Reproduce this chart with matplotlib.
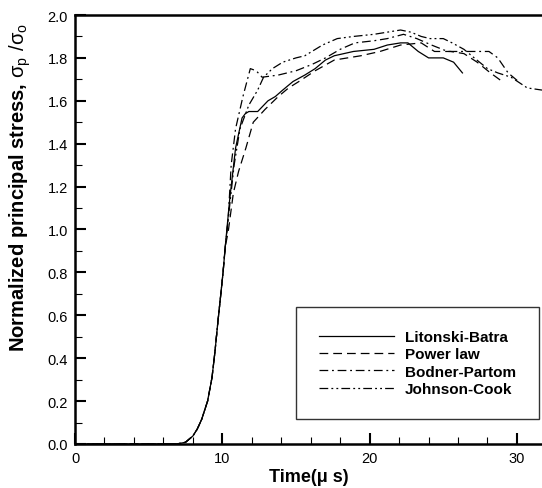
import numpy as np
import matplotlib
matplotlib.use("Agg")
from matplotlib import pyplot as plt
from matplotlib.ticker import MultipleLocator, FormatStrFormatter

plt.rcParams['font.family'] = ['Liberation Sans', 'DejaVu Sans']
plt.rcParams['mathtext.fontset'] = 'custom'
plt.rcParams['mathtext.rm'] = 'Liberation Sans'

# Shared rise
rise_t = [0.0, 6.9, 7.5, 8.0, 8.3, 8.6, 9.0, 9.3, 9.5, 9.7, 9.9, 10.05, 10.2]
rise_s = [0.0, 0.0, 0.008, 0.037, 0.07, 0.115, 0.20, 0.31, 0.43, 0.57, 0.70, 0.80, 0.92]

# Litonski-Batra (solid)
lb_t = rise_t + [10.5, 10.9, 11.34, 11.56, 11.8, 12.4, 13.1, 13.6, 14.1, 14.8,
                 15.6, 16.3, 17.0, 17.6, 18.9, 20.3, 21.2, 22.1, 22.6, 23.3,
                 24.0, 25.0, 25.7, 26.3]
lb_s = rise_s + [1.14, 1.38, 1.52, 1.54, 1.55, 1.55, 1.60, 1.62, 1.65, 1.69,
                 1.72, 1.75, 1.79, 1.81, 1.83, 1.84, 1.86, 1.87, 1.87, 1.83,
                 1.80, 1.80, 1.78, 1.73]

# Power law (dashed)
pl_t = rise_t + [10.4, 10.75, 11.1, 11.6, 12.1, 12.9, 13.8, 14.5, 15.2, 16.3,
                 17.6, 19.4, 20.7, 22.1, 23.5, 24.4, 25.5, 26.4, 27.3, 28.2,
                 29.0]
pl_s = rise_s + [0.99, 1.17, 1.27, 1.38, 1.50, 1.56, 1.62, 1.66, 1.69, 1.74,
                 1.79, 1.81, 1.83, 1.86, 1.87, 1.83, 1.83, 1.82, 1.78, 1.73,
                 1.69]

# Bodner-Partom (dash-dot)
bp_t = rise_t + [10.4, 10.6, 10.9, 11.4, 11.9, 12.3, 12.7, 13.8, 15.0, 16.1,
                 17.0, 18.0, 19.0, 20.3, 21.2, 22.3, 23.2, 24.2, 25.3, 26.5,
                 28.1, 28.7, 29.4, 30.1]
bp_s = rise_s + [1.05, 1.30, 1.47, 1.62, 1.75, 1.74, 1.71, 1.72, 1.74, 1.77,
                 1.80, 1.84, 1.87, 1.88, 1.89, 1.91, 1.89, 1.86, 1.83, 1.83,
                 1.83, 1.80, 1.73, 1.69]

# Johnson-Cook (dash-dot-dot)
jc_t = rise_t + [10.45, 10.8, 11.2, 11.8, 12.4, 12.8, 13.4, 14.1, 15.0, 15.6,
                 16.8, 17.8, 18.9, 20.3, 21.2, 22.1, 22.8, 23.5, 24.1, 25.0,
                 25.6, 26.4, 27.1, 28.0, 28.7, 29.6, 30.7, 31.7]
jc_s = rise_s + [1.08, 1.30, 1.47, 1.58, 1.65, 1.71, 1.75, 1.78, 1.80, 1.81,
                 1.86, 1.89, 1.90, 1.91, 1.92, 1.93, 1.92, 1.90, 1.89, 1.89,
                 1.87, 1.84, 1.80, 1.75, 1.73, 1.71, 1.66, 1.65]

labels = ["Litonski-Batra", "Power law", "Bodner-Partom", "Johnson-Cook"]

fig = plt.figure(figsize=(5.42, 4.89), dpi=100)
ax = fig.add_axes([75 / 542, 1 - 445 / 489, 1 - 75 / 542, (445 - 16) / 489])

lw = 0.9
ax.plot(lb_t, lb_s, color='k', lw=lw, linestyle='-', label=labels[0])
ax.plot(pl_t, pl_s, color='k', lw=lw, linestyle=(0, (7, 4)), label=labels[1])
ax.plot(bp_t, bp_s, color='k', lw=lw, linestyle=(0, (7, 3, 1.5, 3)), label=labels[2])
ax.plot(jc_t, jc_s, color='k', lw=lw, linestyle=(0, (7, 2.5, 1.5, 2.5, 1.5, 2.5)), label=labels[3])

ax.set_xlim(0, 31.7)
ax.set_ylim(0, 2.0)
ax.xaxis.set_major_locator(MultipleLocator(10))
ax.xaxis.set_minor_locator(MultipleLocator(2))
ax.yaxis.set_major_locator(MultipleLocator(0.2))
ax.yaxis.set_minor_locator(MultipleLocator(0.1))
ax.yaxis.set_major_formatter(FormatStrFormatter('%.1f'))

ax.tick_params(which='major', direction='in', length=8, width=1.5, labelsize=10.5, pad=5)
ax.tick_params(which='minor', direction='in', length=5, width=0.8)
ax.tick_params(top=False, right=False)
for side in ['left', 'bottom', 'top']:
    ax.spines[side].set_linewidth(1.8)
ax.spines['right'].set_visible(False)

ax.set_xlabel("Time(\u03bc s)", fontsize=13, fontweight='bold', labelpad=2)
ax.set_ylabel(r"Normalized principal stress, $\mathrm{\sigma_{p}\ /\sigma_{o}}$",
              fontsize=14.5, fontweight='bold')
ax.yaxis.set_label_coords(-0.09, 0.6)

leg = ax.legend(loc='lower right', bbox_to_anchor=(0.9936, 0.058), borderaxespad=0,
                prop={'weight': 'bold', 'size': 11}, handlelength=4.9,
                handletextpad=0.7, labelspacing=0.22, borderpad=1.5,
                fancybox=False, framealpha=1, edgecolor='#333333')
leg.get_frame().set_linewidth(1.0)

fig.savefig("out.png", dpi=100)
